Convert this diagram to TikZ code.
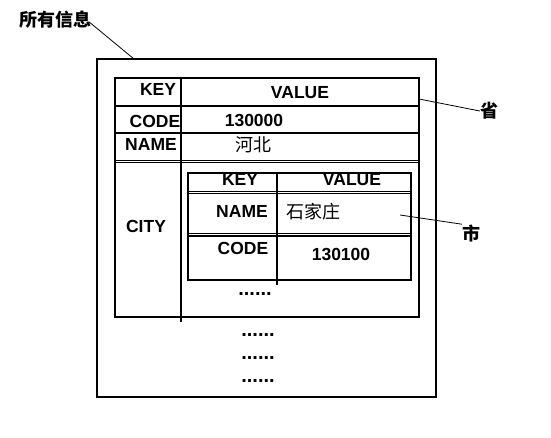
\documentclass[tikz,border=0pt]{standalone}
\usepackage{fontspec}
\setmainfont{Liberation Sans}
\newfontfamily\cjk{Noto Sans CJK SC}
\begin{document}
\begin{tikzpicture}[x=1pt,y=-1pt,
  ln/.style={line width=1.2pt, black},
  thin/.style={line width=0.8pt, black},
  dbl/.style={line width=0.6pt, black},
  lbl/.style={font=\fontsize{17.5}{19}\selectfont\bfseries, inner sep=0pt, anchor=center},
  cn/.style={font=\fontsize{18}{19}\selectfont\cjk, inner sep=0pt, anchor=center},
  cnb/.style={font=\fontsize{18}{19}\selectfont\cjk\bfseries, inner sep=0pt, anchor=center},
  dots/.style={font=\fontsize{20}{21}\selectfont\bfseries, inner sep=0pt, anchor=center}]
\useasboundingbox[fill=white] (0,0) rectangle (551,438);
% outer box
\draw[ln] (97,59) rectangle (436,397);
\coordinate (outtop) at (134,59);
% table 1
\draw[ln] (115,78) rectangle (419,317);
\draw[ln] (181,78) -- (181,322);
\draw[ln] (115,106) -- (419,106);
\draw[ln] (115,133) -- (419,133);
\draw[dbl] (115,160) -- (419,160);
\draw[ln] (115,162.5) -- (419,162.5);
\coordinate (t1right) at (419,99);
% inner table
\draw[ln] (188,173) rectangle (411,280);
\draw[ln] (277,173) -- (277,285);
\draw[dbl] (188,191.5) -- (411,191.5);
\draw[ln] (188,193.5) -- (411,193.5);
\draw[dbl] (188,233) -- (411,233);
\draw[ln] (188,236) -- (411,236);
\coordinate (t2in) at (400,215);
% texts table 1
\node[lbl] (k1) at (158,89) {KEY};
\node[lbl] (v1) at (300,93) {VALUE};
\node[lbl] (c1) at (155,121) {CODE};
\node[lbl] (c1v) at (254,120) {130000};
\node[lbl] (n1) at (151,144) {NAME};
\node[cn] (n1v) at (253,145) {河北};
\node[lbl] (city) at (146,226) {CITY};
% texts inner
\node[lbl] (k2) at (240,179) {KEY};
\node[lbl] (v2) at (352,180) {VALUE};
\node[lbl] (n2) at (242,211) {NAME};
\node[cn] (n2v) at (313,212) {石家庄};
\node[lbl] (c2) at (243,248) {CODE};
\node[lbl] (c2v) at (341,254) {130100};
\node[dots] (d0) at (255,294) {......};
\node[dots] (d1) at (258,335) {......};
\node[dots] (d2) at (258,358) {......};
\node[dots] (d3) at (258,381) {......};
% labels
\node[cnb] (all) at (55,20) {所有信息};
\node[cnb] (sheng) at (489,111) {省};
\node[cnb] (shi) at (471,233) {市};
\draw[thin] (all.east) ++(-2,2) -- (outtop);
\draw[thin] (t1right) -- (sheng.west);
\draw[thin] (t2in) -- (shi.north west);
\end{tikzpicture}
\end{document}
